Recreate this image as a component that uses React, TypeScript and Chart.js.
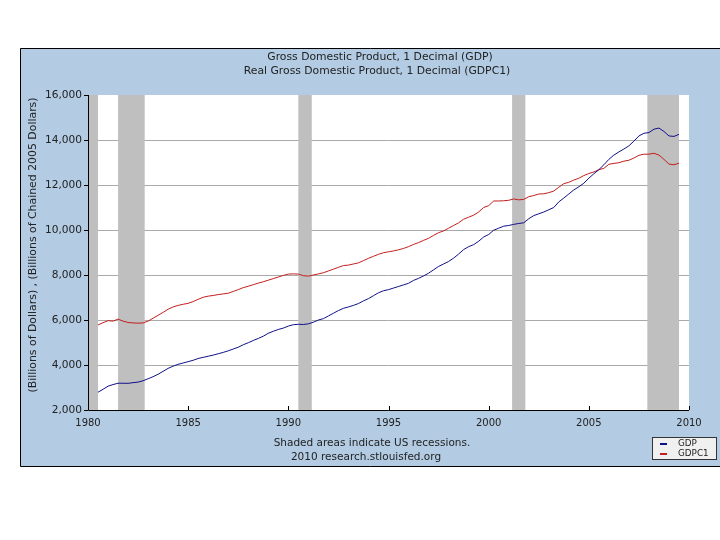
import React, { useEffect, useRef } from "react";
import { Chart, registerables } from "chart.js";

Chart.register(...registerables);

// ---------- data ----------
const quarters = [
  "1980Q3", "1980Q4",
  "1981Q1", "1981Q2", "1981Q3", "1981Q4",
  "1982Q1", "1982Q2", "1982Q3", "1982Q4",
  "1983Q1", "1983Q2", "1983Q3", "1983Q4",
  "1984Q1", "1984Q2", "1984Q3", "1984Q4",
  "1985Q1", "1985Q2", "1985Q3", "1985Q4",
  "1986Q1", "1986Q2", "1986Q3", "1986Q4",
  "1987Q1", "1987Q2", "1987Q3", "1987Q4",
  "1988Q1", "1988Q2", "1988Q3", "1988Q4",
  "1989Q1", "1989Q2", "1989Q3", "1989Q4",
  "1990Q1", "1990Q2", "1990Q3", "1990Q4",
  "1991Q1", "1991Q2", "1991Q3", "1991Q4",
  "1992Q1", "1992Q2", "1992Q3", "1992Q4",
  "1993Q1", "1993Q2", "1993Q3", "1993Q4",
  "1994Q1", "1994Q2", "1994Q3", "1994Q4",
  "1995Q1", "1995Q2", "1995Q3", "1995Q4",
  "1996Q1", "1996Q2", "1996Q3", "1996Q4",
  "1997Q1", "1997Q2", "1997Q3", "1997Q4",
  "1998Q1", "1998Q2", "1998Q3", "1998Q4",
  "1999Q1", "1999Q2", "1999Q3", "1999Q4",
  "2000Q1", "2000Q2", "2000Q3", "2000Q4",
  "2001Q1", "2001Q2", "2001Q3", "2001Q4",
  "2002Q1", "2002Q2", "2002Q3", "2002Q4",
  "2003Q1", "2003Q2", "2003Q3", "2003Q4",
  "2004Q1", "2004Q2", "2004Q3", "2004Q4",
  "2005Q1", "2005Q2", "2005Q3", "2005Q4",
  "2006Q1", "2006Q2", "2006Q3", "2006Q4",
  "2007Q1", "2007Q2", "2007Q3", "2007Q4",
  "2008Q1", "2008Q2", "2008Q3", "2008Q4",
  "2009Q1", "2009Q2", "2009Q3",
];

// Gross Domestic Product (billions of dollars)
const gdp = [
  2790, 2920,
  3060, 3130, 3190, 3190,
  3185, 3215, 3240, 3300,
  3390, 3480, 3590, 3720,
  3850, 3950, 4030, 4090,
  4150, 4210, 4290, 4340,
  4390, 4440, 4500, 4560,
  4630, 4710, 4790, 4900,
  4990, 5090, 5180, 5280,
  5410, 5500, 5580, 5640,
  5730, 5790, 5810, 5800,
  5830, 5900, 6000, 6060,
  6180, 6300, 6420, 6520,
  6580, 6650, 6730, 6850,
  6950, 7080, 7210, 7300,
  7350, 7420, 7490, 7560,
  7630, 7760, 7850, 7960,
  8080, 8230, 8380, 8490,
  8600, 8750, 8930, 9130,
  9260, 9350, 9500, 9690,
  9800, 9990, 10080, 10170,
  10200, 10250, 10290, 10320,
  10500, 10640, 10720, 10800,
  10900, 11000, 11250, 11420,
  11600, 11780, 11920, 12080,
  12300, 12500, 12680, 12900,
  13140, 13330, 13470, 13600,
  13740, 13950, 14180, 14300,
  14330, 14480, 14530, 14380,
  14180, 14160, 14250,
];

// Real Gross Domestic Product (billions of chained 2005 dollars)
const gdpc1 = [
  5780, 5880,
  5970, 5950, 6040, 5950,
  5890, 5870, 5860, 5870,
  5950, 6080, 6210, 6340,
  6480, 6580, 6650, 6700,
  6740, 6820, 6920, 7010,
  7060, 7090, 7130, 7160,
  7190, 7270, 7350, 7440,
  7500, 7570, 7640, 7700,
  7770, 7840, 7910, 7980,
  8040, 8050, 8040, 7970,
  7950, 8000, 8050, 8100,
  8180, 8260, 8340, 8420,
  8440, 8490, 8540, 8640,
  8740, 8830, 8920, 8990,
  9030, 9070, 9120, 9180,
  9260, 9360, 9440, 9540,
  9630, 9760, 9880, 9960,
  10080, 10200, 10320, 10480,
  10570, 10660, 10800, 11000,
  11080, 11290, 11290, 11300,
  11320, 11380, 11340, 11360,
  11480, 11530, 11600, 11610,
  11660, 11730, 11900, 12060,
  12120, 12220, 12300, 12420,
  12510, 12580, 12680, 12740,
  12920, 12960, 12990, 13060,
  13100, 13200, 13320, 13370,
  13370, 13410, 13330, 13140,
  12930, 12900, 12970,
];

const recessionStarts = [1980.0, 1981.5, 1990.5, 2001.17, 2007.92];
const recessionEnds = [1980.5, 1982.83, 1991.17, 2001.83, 2009.5];

const seriesNames = ["GDP", "GDPC1"];
const titleLines = [
  "Gross Domestic Product, 1 Decimal (GDP)",
  "Real Gross Domestic Product, 1 Decimal (GDPC1)",
];
const yAxisTitle = "(Billions of Dollars) , (Billions of Chained 2005 Dollars)";
const footnotes = ["Shaded areas indicate US recessions.", "2010 research.stlouisfed.org"];

const yMin = 2000;
const yMax = 16000;
const yStep = 2000;
const xMin = 1980;
const xMax = 2010;
const xStep = 5;

// ---------- styles ----------
const PANEL = "#b3cce3";
const BAR = "#bfbfbf";
const GRID = "#a9a9a9";
const TEXT = "#222";
const BLUE = "#10108a";
const RED = "#c41e1e";
const FONT = "'DejaVu Sans', Verdana, sans-serif";

function toYear(q: string): number {
  const [y, qq] = q.split("Q");
  return Number(y) + (Number(qq) - 1) / 4;
}

const decorPlugin = {
  id: "decor",
  beforeDraw(chart: any) {
    const ctx = chart.ctx;
    const { left, top, right, bottom } = chart.chartArea;
    ctx.save();
    ctx.fillStyle = "#fff";
    ctx.fillRect(0, 0, chart.width, chart.height);
    ctx.fillStyle = PANEL;
    ctx.fillRect(20, 48, chart.width - 20, 419);
    ctx.strokeStyle = "#000";
    ctx.lineWidth = 1;
    ctx.beginPath();
    ctx.moveTo(chart.width, 48.5);
    ctx.lineTo(20.5, 48.5);
    ctx.lineTo(20.5, 466.5);
    ctx.lineTo(chart.width, 466.5);
    ctx.stroke();
    ctx.fillStyle = "#fff";
    ctx.fillRect(left, top, right - left, bottom - top);

    ctx.fillStyle = TEXT;
    ctx.textAlign = "center";
    ctx.textBaseline = "middle";
    ctx.font = `10.8px ${FONT}`;
    ctx.fillText(titleLines[0], 380, 57);
    ctx.fillText(titleLines[1], 377, 71);

    ctx.font = `10.5px ${FONT}`;
    ctx.fillText(footnotes[0], 372, 443);
    ctx.fillText(footnotes[1], 366, 457);

    ctx.save();
    ctx.translate(33, 245);
    ctx.rotate(-Math.PI / 2);
    ctx.font = `10.9px ${FONT}`;
    ctx.fillText(yAxisTitle, 0, 0);
    ctx.restore();
    ctx.restore();
  },
  beforeDatasetsDraw(chart: any) {
    const ctx = chart.ctx;
    const xs = chart.scales.x;
    const { top, bottom } = chart.chartArea;
    ctx.save();
    ctx.fillStyle = BAR;
    recessionStarts.forEach((s, i) => {
      const x0 = xs.getPixelForValue(s);
      const x1 = xs.getPixelForValue(recessionEnds[i]);
      ctx.fillRect(x0, top, x1 - x0, bottom - top);
    });
    ctx.restore();
  },
  afterDatasetsDraw(chart: any) {
    const ctx = chart.ctx;
    const xs = chart.scales.x;
    const { left, top, right, bottom } = chart.chartArea;
    ctx.save();
    ctx.strokeStyle = "#000";
    ctx.lineWidth = 1;
    ctx.beginPath();
    ctx.moveTo(left + 0.5, top);
    ctx.lineTo(left + 0.5, bottom + 0.5);
    ctx.lineTo(right, bottom + 0.5);
    ctx.stroke();
    ctx.beginPath();
    xs.ticks.forEach((t: any) => {
      const px = Math.round(xs.getPixelForValue(t.value)) + 0.5;
      ctx.moveTo(px, bottom);
      ctx.lineTo(px, bottom - 4);
    });
    ctx.stroke();

    // legend
    const lx = 652.5, ly = 437.5;
    ctx.fillStyle = "#f0f0f0";
    ctx.fillRect(lx, ly, 64, 22);
    ctx.strokeStyle = "#333";
    ctx.strokeRect(lx, ly, 64, 22);
    ctx.font = `8.8px ${FONT}`;
    ctx.textAlign = "left";
    ctx.textBaseline = "middle";
    const cols = [BLUE, RED];
    seriesNames.forEach((name, i) => {
      const y = 444 + i * 10;
      ctx.strokeStyle = cols[i];
      ctx.lineWidth = 2;
      ctx.beginPath();
      ctx.moveTo(660, y);
      ctx.lineTo(667, y);
      ctx.stroke();
      ctx.fillStyle = TEXT;
      ctx.fillText(name, 678, y);
    });
    ctx.restore();
  },
};

export default function App() {
  const ref = useRef<HTMLCanvasElement | null>(null);

  useEffect(() => {
    if (!ref.current) return;
    const xs = quarters.map(toYear);
    const chart = new Chart(ref.current, {
      type: "line",
      data: {
        datasets: [
          {
            label: seriesNames[0],
            data: xs.map((x, i) => ({ x, y: gdp[i] })),
            borderColor: BLUE,
            borderWidth: 1,
            pointRadius: 0,
            tension: 0,
            fill: false,
          },
          {
            label: seriesNames[1],
            data: xs.map((x, i) => ({ x, y: gdpc1[i] })),
            borderColor: RED,
            borderWidth: 1,
            pointRadius: 0,
            tension: 0,
            fill: false,
          },
        ],
      },
      options: {
        responsive: false,
        animation: false,
        devicePixelRatio: 1,
        layout: { padding: { left: 0, top: 95, right: 31, bottom: 0 } },
        plugins: {
          legend: { display: false },
          tooltip: { enabled: false },
          title: { display: false },
        },
        scales: {
          x: {
            type: "linear",
            min: xMin,
            max: xMax,
            grid: { display: false, drawTicks: false, tickLength: 0 },
            border: { display: false },
            ticks: {
              stepSize: xStep,
              padding: 7,
              maxRotation: 0,
              autoSkip: false,
              color: TEXT,
              font: { family: FONT, size: 10 },
              callback: (v: any) => String(v),
            },
            afterFit: (s: any) => {
              s.height = 130;
            },
          },
          y: {
            min: yMin,
            max: yMax,
            grid: {
              color: (c: any) =>
                c.tick && (c.tick.value === yMin || c.tick.value === yMax) ? "rgba(0,0,0,0)" : GRID,
              tickColor: "#000",
              tickLength: 4,
              lineWidth: 1,
            },
            border: { display: false },
            ticks: {
              stepSize: yStep,
              padding: 2,
              color: TEXT,
              font: { family: FONT, size: 10.6 },
              callback: (v: any) => Number(v).toLocaleString("en-US"),
            },
            afterFit: (s: any) => {
              s.width = 88;
            },
          },
        },
      },
      plugins: [decorPlugin],
    } as any);
    return () => chart.destroy();
  }, []);

  return (
    <div style={{ position: "absolute", left: 0, top: 0, width: 720, height: 540, background: "#fff" }}>
      <canvas ref={ref} width={720} height={540} style={{ display: "block" }} />
    </div>
  );
}
